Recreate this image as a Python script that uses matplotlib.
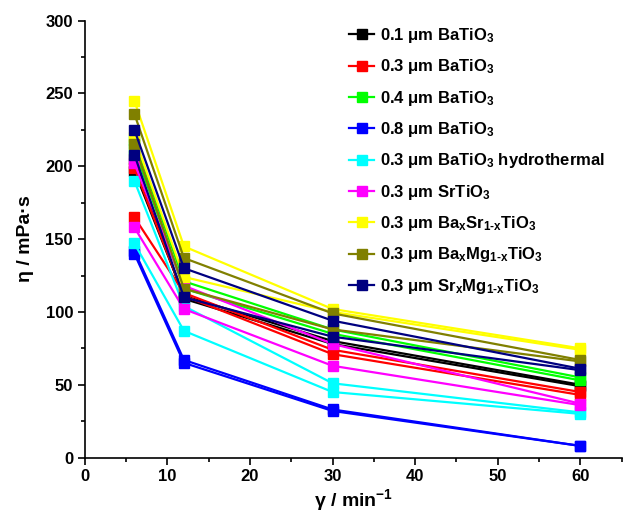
import numpy as np
import matplotlib
matplotlib.use('Agg')
from matplotlib import pyplot as plt

plt.rcParams['font.family'] = ['Liberation Sans', 'DejaVu Sans']
plt.rcParams['font.weight'] = 'bold'
plt.rcParams['mathtext.fontset'] = 'custom'
plt.rcParams['mathtext.rm'] = 'Liberation Sans:bold'
plt.rcParams['mathtext.bf'] = 'Liberation Sans:bold'
plt.rcParams['mathtext.default'] = 'bf'

# shear rate (min^-1)
gamma = [6, 12, 30, 60]

# viscosity (mPa s), two runs per powder
labels = ['0.1 μm BaTiO$_3$', '0.3 μm BaTiO$_3$', '0.4 μm BaTiO$_3$', '0.8 μm BaTiO$_3$',
          '0.3 μm BaTiO$_3$ hydrothermal', '0.3 μm SrTiO$_3$',
          r'0.3 μm Ba$_x$Sr$_{\text{1-x}}$TiO$_3$', r'0.3 μm Ba$_x$Mg$_{\text{1-x}}$TiO$_3$',
          r'0.3 μm Sr$_x$Mg$_{\text{1-x}}$TiO$_3$']
colors = ['#000000', '#ff0000', '#00ff00', '#0000ff', '#00ffff', '#ff00ff',
          '#ffff00', '#808000', '#000080']

run1 = [[197, 111, 80, 50],
        [165, 113, 74, 45],
        [218, 121, 88, 55],
        [140, 65, 32, 8],
        [190, 104, 51, 31],
        [202, 118, 78, 37],
        [245, 145, 102, 75],
        [236, 137, 99, 67],
        [225, 130, 94, 61]]
run2 = [[205, 109, 78, 49],
        [199, 111, 71, 43],
        [212, 116, 85, 53],
        [142, 67, 33, 8],
        [147, 87, 45, 30],
        [158, 102, 63, 36],
        [220, 124, 100, 74],
        [215, 116, 88, 66],
        [208, 110, 83, 60]]

fig = plt.figure(figsize=(6.24, 5.17), dpi=100)
ax = fig.add_axes([0.136, 0.115, 0.86, 0.845])

for i in range(len(labels)):
    for run, lab in [(run2, None), (run1, labels[i])]:
        ax.plot(gamma, run[i], color=colors[i], lw=1.6, marker='s', ms=7.5,
                mec=colors[i], mfc=colors[i], label=lab)

ax.set_xlim(0, 65)
ax.set_ylim(0, 300)
ax.set_xticks(np.arange(0, 61, 10))
ax.set_xticks(np.arange(5, 66, 10), minor=True)
ax.set_yticks(np.arange(0, 301, 50))
ax.set_yticks(np.arange(25, 300, 50), minor=True)
ax.spines['top'].set_visible(False)
ax.spines['right'].set_visible(False)
ax.spines['left'].set_linewidth(1.2)
ax.spines['bottom'].set_linewidth(1.2)
ax.tick_params(which='major', direction='out', length=5, width=1.2, labelsize=12)
ax.tick_params(which='minor', direction='out', length=3, width=1.2)
for t in ax.get_xticklabels() + ax.get_yticklabels():
    t.set_fontweight('bold')

ax.set_xlabel('γ / min$^{-1}$', fontsize=14, fontweight='bold', labelpad=2)
ax.set_ylabel('η / mPa·s', fontsize=14, fontweight='bold', labelpad=8)

handles, labs = ax.get_legend_handles_labels()
leg = ax.legend(handles, labs, loc='upper left', bbox_to_anchor=(0.48, 1.003),
                frameon=False, fontsize=12, handlelength=1.5, handletextpad=0.35,
                labelspacing=0.74, borderaxespad=0)
for t in leg.get_texts():
    t.set_fontweight('bold')

fig.savefig('out.png', dpi=100)
